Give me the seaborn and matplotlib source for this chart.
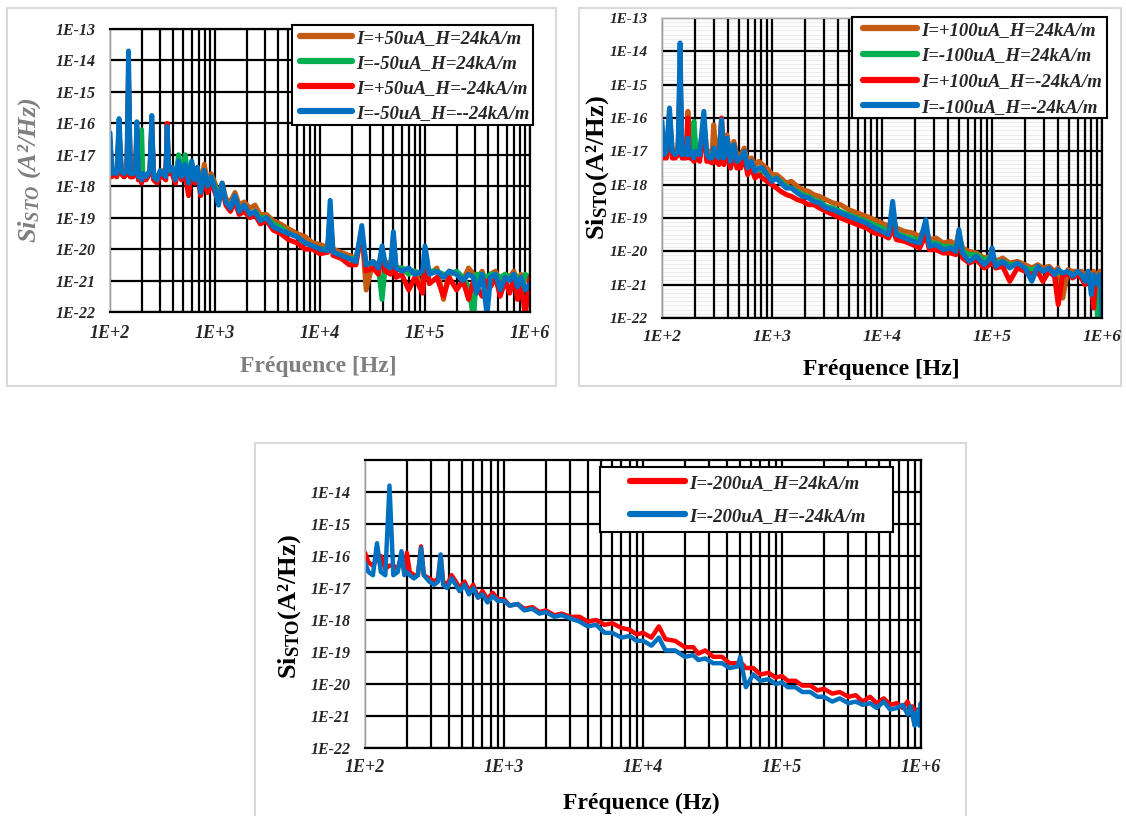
import numpy as np
import matplotlib
matplotlib.use("Agg")
import matplotlib.pyplot as plt
from matplotlib.patches import Rectangle
from matplotlib.font_manager import FontProperties
import seaborn as sns

# ---------------- data (log10 of Si_STO in A^2/Hz) ----------------
freq_p1 = [
    100, 104, 110, 116, 122, 128, 136, 145, 150, 156,
    165, 175, 180, 186, 195, 200, 206, 220, 240, 250,
    260, 280, 300, 320, 340, 350, 362, 390, 420, 450,
    480, 520, 560, 600, 640, 680, 730, 790, 850, 920,
    1000, 1080, 1170, 1270, 1400, 1550, 1700, 1900, 2150, 2400,
    2700, 3100, 3600, 4200, 5000, 6000, 7200, 8500, 10000, 11800,
    12500, 13300, 16000, 19000, 22000, 25000, 27500, 32000, 36000, 39000,
    42000, 47000, 50000, 53000, 60000, 70000, 80000, 95000, 100000, 110000,
    130000, 150000, 170000, 200000, 230000, 260000, 290000, 310000, 350000, 390000,
    420000, 470000, 520000, 580000, 640000, 700000, 760000, 820000, 900000, 1000000,
]
p50_pos_h24 = [
    -16.6, -17.5, -17.5, -17.6, -16.3, -17.5, -17.6, -17.5, -14.8, -17.6,
    -17.6, -17.5, -16.4, -17.6, -17.6, -17.7, -17.6, -17.7, -17.5, -16.2,
    -17.6, -17.7, -17.6, -17.5, -17.6, -16.4, -17.5, -17.4, -17.7, -17.3,
    -17.6, -17.4, -17.8, -17.3, -17.7, -17.4, -18.0, -17.3, -17.9, -17.6,
    -17.9, -18.3, -17.9, -18.4, -18.5, -18.2, -18.6, -18.5, -18.7, -18.6,
    -18.9, -18.9, -19.1, -19.2, -19.35, -19.5, -19.6, -19.8, -19.85, -19.95,
    -19.0, -20.0, -20.1, -20.2, -20.3, -19.4, -21.3, -20.4, -20.5, -20.2,
    -20.4, -20.5, -19.7, -20.6, -20.6, -20.7, -20.7, -21.3, -20.3, -20.8,
    -20.6, -21.6, -20.7, -20.8, -21.0, -20.6, -20.8, -21.0, -20.7, -21.2,
    -20.8, -20.7, -21.0, -20.8, -20.9, -20.7, -21.0, -20.8, -21.0, -20.9,
]
p50_neg_h24 = [
    -16.8, -17.6, -17.6, -17.7, -16.5, -17.6, -17.7, -17.6, -14.9, -17.7,
    -17.7, -17.6, -16.6, -17.7, -16.7, -16.2, -17.7, -17.7, -17.6, -16.3,
    -17.7, -17.8, -17.7, -17.6, -17.7, -16.6, -17.6, -17.5, -17.8, -17.0,
    -17.7, -17.0, -17.8, -17.3, -17.8, -17.5, -18.0, -17.6, -18.0, -17.7,
    -18.0, -18.4, -18.0, -18.5, -18.6, -18.4, -18.7, -18.7, -18.9, -18.8,
    -19.0, -19.0, -19.2, -19.3, -19.5, -19.6, -19.8, -19.9, -20.0, -20.0,
    -19.2, -20.1, -20.2, -20.3, -20.3, -19.6, -20.5, -20.4, -20.6, -21.6,
    -20.5, -20.6, -19.9, -20.6, -20.6, -20.8, -20.7, -20.8, -20.5, -20.7,
    -20.7, -20.8, -20.8, -20.7, -20.9, -21.2, -22.2, -20.8, -20.8, -20.9,
    -20.8, -20.8, -20.9, -20.8, -20.9, -20.8, -20.9, -21.5, -20.8, -20.9,
]
p50_pos_hm24 = [
    -16.5, -17.7, -17.6, -17.7, -16.2, -17.6, -17.7, -17.6, -14.5, -17.7,
    -17.7, -17.6, -16.3, -17.8, -17.7, -17.9, -17.7, -17.8, -17.6, -16.0,
    -17.8, -17.9, -17.7, -17.7, -17.8, -16.0, -17.6, -17.6, -17.9, -17.4,
    -17.8, -17.6, -18.3, -17.3, -17.9, -17.6, -18.3, -17.8, -18.2, -17.9,
    -18.2, -18.5, -18.1, -18.6, -18.8, -18.5, -18.9, -18.8, -19.0, -18.9,
    -19.2, -19.1, -19.4, -19.5, -19.7, -19.8, -20.0, -20.0, -20.15, -20.1,
    -18.9, -20.2, -20.3, -20.5, -20.5, -19.4, -20.7, -20.6, -20.8, -20.1,
    -20.7, -20.8, -19.6, -20.9, -20.8, -21.3, -20.9, -21.4, -20.2, -21.1,
    -20.9, -21.5, -20.9, -21.3, -21.0, -21.6, -21.0, -21.2, -21.5, -21.0,
    -21.2, -20.9, -21.5, -21.0, -21.4, -20.9, -21.6, -21.1, -22.1, -20.9,
]
p50_neg_hm24 = [
    -16.3, -17.6, -17.5, -17.6, -15.85, -17.5, -17.6, -17.5, -13.7, -17.6,
    -17.6, -17.5, -15.95, -17.7, -17.6, -17.8, -17.6, -17.7, -17.5, -15.75,
    -17.7, -17.8, -17.5, -17.6, -17.7, -16.1, -17.5, -17.4, -17.8, -17.2,
    -17.7, -17.3, -17.9, -17.2, -17.8, -17.4, -18.2, -17.5, -18.0, -17.7,
    -18.1, -18.6, -17.9, -18.5, -18.7, -18.3, -18.8, -18.6, -18.9, -18.8,
    -19.1, -19.0, -19.3, -19.4, -19.5, -19.6, -19.8, -19.9, -20.0, -20.05,
    -18.45, -20.1, -20.2, -20.3, -20.4, -19.25, -20.5, -20.4, -20.6, -19.9,
    -20.5, -20.6, -19.45, -20.6, -20.7, -20.6, -20.8, -20.7, -19.9, -20.8,
    -20.7, -20.9, -20.7, -20.8, -21.0, -20.8, -20.9, -21.4, -20.8, -22.1,
    -20.9, -20.8, -21.3, -20.9, -21.0, -20.8, -21.2, -20.9, -21.3, -21.1,
]
labels_p1 = ["I=+50uA_H=24kA/m", "I=-50uA_H=24kA/m",
             "I=+50uA_H=-24kA/m", "I=-50uA_H=--24kA/m"]

freq_p2 = [
    100, 104, 110, 117, 124, 132, 140, 146, 152, 160,
    166, 172, 178, 186, 195, 205, 220, 240, 255, 270,
    285, 295, 310, 330, 348, 365, 390, 420, 450, 480,
    520, 560, 600, 650, 700, 760, 820, 900, 1000, 1100,
    1200, 1350, 1500, 1700, 1900, 2150, 2400, 2700, 3100, 3600,
    4200, 5000, 6000, 7200, 8500, 10000, 11500, 12500, 13500, 16000,
    19000, 22000, 25000, 27000, 31000, 36000, 42000, 47000, 50000, 54000,
    62000, 72000, 85000, 95000, 100000, 108000, 125000, 145000, 170000, 200000,
    230000, 260000, 290000, 330000, 370000, 400000, 440000, 490000, 540000, 600000,
    650000, 700000, 750000, 800000, 840000, 880000, 920000, 950000, 980000, 1000000,
]
p100_pos_h24 = [
    -16.8, -17.1, -17.0, -15.9, -17.0, -17.0, -16.9, -15.0, -17.0, -17.0,
    -17.0, -15.8, -17.0, -16.9, -17.0, -16.9, -17.0, -16.1, -17.0, -17.0,
    -17.1, -16.2, -17.0, -17.0, -16.1, -17.1, -16.5, -17.2, -16.7, -17.1,
    -17.1, -16.9, -17.3, -17.2, -17.4, -17.3, -17.4, -17.5, -17.7, -17.7,
    -17.8, -17.95, -17.9, -18.05, -18.15, -18.2, -18.3, -18.35, -18.45, -18.55,
    -18.6, -18.75, -18.85, -18.95, -19.05, -19.15, -19.25, -19.0, -19.3, -19.4,
    -19.45, -19.55, -19.3, -19.65, -19.6, -19.75, -19.7, -19.8, -19.45, -19.9,
    -20.0, -20.05, -20.2, -20.15, -20.1, -20.3, -20.2, -20.35, -20.3, -20.4,
    -20.5, -20.4, -20.5, -20.45, -20.6, -20.5, -21.4, -20.55, -20.6, -20.6,
    -20.6, -20.7, -20.6, -20.8, -20.6, -20.7, -20.8, -20.6, -20.7, -20.6,
]
p100_neg_h24 = [
    -17.0, -17.1, -17.05, -16.2, -17.1, -17.1, -17.0, -15.2, -17.1, -17.05,
    -17.1, -16.6, -17.1, -17.05, -16.1, -17.1, -17.1, -16.3, -17.1, -17.2,
    -17.2, -17.0, -17.1, -17.2, -16.4, -17.2, -16.8, -17.5, -16.9, -17.3,
    -17.3, -17.2, -17.5, -17.4, -17.6, -17.5, -17.6, -17.7, -17.85, -17.8,
    -17.9, -18.05, -18.1, -18.2, -18.3, -18.35, -18.45, -18.5, -18.65, -18.7,
    -18.8, -18.9, -19.0, -19.1, -19.2, -19.3, -19.4, -19.1, -19.45, -19.55,
    -19.6, -19.7, -19.4, -19.75, -19.75, -19.85, -19.85, -19.95, -19.6, -20.0,
    -20.1, -20.1, -20.25, -20.2, -20.2, -20.35, -20.3, -20.4, -20.4, -20.5,
    -20.55, -20.5, -20.6, -20.55, -20.7, -20.6, -20.7, -20.65, -20.7, -20.7,
    -20.75, -20.8, -20.7, -20.9, -20.75, -21.1, -22.3, -20.8, -20.9, -20.8,
]
p100_pos_hm24 = [
    -16.5, -17.2, -17.2, -16.0, -17.2, -17.2, -17.1, -14.6, -17.2, -17.2,
    -17.2, -16.0, -17.2, -17.2, -17.3, -17.2, -17.3, -16.3, -17.3, -17.3,
    -17.35, -17.0, -17.3, -17.4, -16.0, -17.4, -16.9, -17.5, -17.0, -17.5,
    -17.5, -17.1, -17.7, -17.5, -17.8, -17.7, -17.8, -17.9, -18.0, -18.1,
    -18.2, -18.3, -18.35, -18.45, -18.5, -18.6, -18.6, -18.7, -18.8, -18.9,
    -19.0, -19.1, -19.2, -19.3, -19.45, -19.5, -19.6, -19.3, -19.65, -19.7,
    -19.8, -19.9, -19.5, -19.95, -19.95, -20.05, -20.05, -20.1, -19.5, -20.2,
    -20.35, -20.25, -20.5, -20.4, -20.3, -20.5, -20.45, -20.9, -20.5, -20.6,
    -20.7, -20.6, -20.9, -20.6, -20.75, -21.6, -20.7, -20.7, -20.8, -20.7,
    -20.8, -21.0, -20.8, -21.0, -21.7, -20.8, -20.9, -20.8, -20.9, -20.9,
]
p100_neg_hm24 = [
    -16.1, -17.1, -17.0, -15.7, -17.0, -17.1, -17.0, -13.75, -17.1, -17.0,
    -17.1, -16.6, -17.1, -17.0, -17.2, -17.0, -17.1, -15.8, -17.1, -17.2,
    -17.2, -16.9, -17.1, -17.2, -16.05, -17.2, -16.6, -17.3, -16.8, -17.3,
    -17.2, -17.0, -17.5, -17.3, -17.6, -17.5, -17.5, -17.7, -17.9, -17.8,
    -17.95, -18.1, -18.1, -18.25, -18.35, -18.4, -18.5, -18.55, -18.7, -18.75,
    -18.85, -18.95, -19.05, -19.15, -19.3, -19.4, -19.5, -18.5, -19.5, -19.6,
    -19.7, -19.75, -19.05, -19.85, -19.8, -19.95, -19.9, -20.0, -19.35, -20.05,
    -20.3, -20.15, -20.4, -20.25, -19.9, -20.45, -20.3, -20.5, -20.35, -20.5,
    -20.9, -20.45, -20.6, -20.5, -20.7, -20.55, -20.65, -20.6, -20.75, -20.6,
    -20.7, -20.9, -20.6, -21.3, -20.7, -20.9, -21.0, -20.7, -21.0, -22.0,
]
labels_p2 = ["I=+100uA_H=24kA/m", "I=-100uA_H=24kA/m",
             "I=+100uA_H=-24kA/m", "I=-100uA_H=-24kA/m"]

freq_p3 = [
    100, 106, 114, 122, 130, 140, 150, 160, 172, 183,
    192, 200, 210, 225, 240, 253, 265, 290, 315, 335,
    350, 365, 390, 420, 450, 480, 520, 560, 600, 650,
    700, 760, 830, 900, 1000, 1100, 1250, 1400, 1600, 1800,
    2000, 2300, 2600, 3000, 3500, 4000, 4600, 5300, 6000, 7000,
    8000, 9000, 10000, 11500, 13000, 14500, 17000, 20000, 23000, 25000,
    28000, 32000, 37000, 42000, 48000, 50000, 55000, 62000, 70000, 80000,
    90000, 100000, 110000, 125000, 140000, 160000, 180000, 200000, 230000, 260000,
    300000, 340000, 380000, 430000, 480000, 540000, 600000, 670000, 740000, 800000,
    840000, 870000, 900000, 920000, 940000, 960000, 975000, 985000, 995000, 1000000,
]
p200_h24 = [
    -15.9, -16.2, -16.3, -16.1, -16.0, -16.4, -16.3, -16.3, -16.4, -16.0,
    -16.5, -15.9, -16.5, -16.6, -16.6, -15.7, -16.6, -16.7, -16.8, -16.7,
    -16.0, -16.8, -16.9, -16.6, -16.8, -17.0, -16.8, -17.1, -16.9, -17.3,
    -17.1, -17.35, -17.15, -17.35, -17.35, -17.55, -17.5, -17.65, -17.6, -17.75,
    -17.7, -17.85, -17.8, -17.9, -17.9, -18.05, -18.0, -18.15, -18.1, -18.25,
    -18.3, -18.45, -18.4, -18.55, -18.2, -18.6, -18.65, -18.85, -18.85, -19.05,
    -18.95, -19.15, -19.15, -19.35, -19.35, -19.3, -19.5, -19.5, -19.7, -19.65,
    -19.8, -19.75, -19.9, -19.9, -20.05, -20.05, -20.2, -20.15, -20.3, -20.25,
    -20.4, -20.35, -20.55, -20.4, -20.6, -20.45, -20.65, -20.6, -20.75, -20.55,
    -20.8, -20.7, -20.9, -21.0, -20.8, -20.9, -21.1, -20.9, -21.0, -20.85,
]
p200_hm24 = [
    -16.2, -16.5, -16.6, -15.6, -16.5, -16.6, -13.8, -16.6, -16.5, -15.85,
    -16.6, -16.5, -16.6, -16.7, -16.6, -15.75, -16.6, -16.8, -16.9, -16.8,
    -15.95, -16.9, -17.0, -16.7, -16.9, -17.1, -16.9, -17.2, -17.0, -17.3,
    -17.2, -17.45, -17.25, -17.4, -17.4, -17.55, -17.5, -17.7, -17.65, -17.8,
    -17.75, -17.9, -17.85, -17.95, -18.05, -18.2, -18.15, -18.4, -18.4, -18.55,
    -18.5, -18.65, -18.65, -18.8, -18.55, -18.95, -18.95, -19.15, -19.1, -19.25,
    -19.2, -19.35, -19.35, -19.5, -19.45, -19.15, -20.1, -19.7, -19.9, -19.85,
    -20.0, -19.95, -20.1, -20.1, -20.25, -20.25, -20.4, -20.4, -20.55, -20.45,
    -20.6, -20.55, -20.65, -20.6, -20.75, -20.55, -20.8, -20.75, -20.65, -20.95,
    -20.7, -21.0, -21.3, -20.9, -21.1, -20.8, -21.3, -20.9, -20.6, -20.7,
]
labels_p3 = ["I=-200uA_H=24kA/m", "I=-200uA_H=-24kA/m"]

x_ticks = [1e2, 1e3, 1e4, 1e5, 1e6]
x_tick_labels = ["1E+2", "1E+3", "1E+4", "1E+5", "1E+6"]
y_exponents = [-22, -21, -20, -19, -18, -17, -16, -15, -14, -13]

# ---------------- style ----------------
sns.set_style("white")
plt.rcParams["font.family"] = ["Liberation Serif", "DejaVu Serif"]
plt.rcParams["mathtext.fontset"] = "custom"
plt.rcParams["mathtext.it"] = "Liberation Serif:italic:bold"
plt.rcParams["mathtext.rm"] = "Liberation Serif:bold"
plt.rcParams["mathtext.bf"] = "Liberation Serif:bold"

ORANGE, GREEN, RED, BLUE = "#C55A11", "#00B050", "#FF0000", "#0070C0"
W, H = 1126, 816
fig = plt.figure(figsize=(W / 100, H / 100), dpi=100)
fig.patch.set_facecolor("white")


def rect(x0, y0, x1, y1):
    return [x0 / W, 1 - y1 / H, (x1 - x0) / W, (y1 - y0) / H]


def fx(x):
    return x / W


def fy(y):
    return 1 - y / H


# panel frames
for (x0, y0, x1, y1) in [(7, 8, 556, 386), (579, 8, 1121, 386), (255, 443, 966, 830)]:
    fig.patches.append(Rectangle((fx(x0), fy(y1)), (x1 - x0) / W, (y1 - y0) / H,
                                 transform=fig.transFigure, fill=False,
                                 edgecolor="#d9d9d9", lw=1.5, zorder=-5))


def setup_axes(ax, ylab_exps, xfs, yfs, xpad, ypad, shaded=False, top_gray=False):
    ax.set_xscale("log")
    ax.set_yscale("log")
    ax.set_xlim(1e2, 1e6)
    ax.set_ylim(1e-22, 1e-13)
    ax.set_axisbelow(True)
    if shaded:
        ax.set_facecolor("#fcfcfc")
        ax.set_yticks([10.0 ** e for e in np.arange(-22, -13, 0.125)], minor=True)
        ax.yaxis.grid(True, which="minor", color="#e9e9e9", lw=0.6)
    else:
        ax.yaxis.set_minor_locator(matplotlib.ticker.NullLocator())
    ax.yaxis.set_minor_formatter(matplotlib.ticker.NullFormatter())
    ax.set_xticks(x_ticks, labels=x_tick_labels, fontsize=xfs,
                  fontstyle="italic", fontweight="bold")
    ax.xaxis.set_minor_locator(matplotlib.ticker.LogLocator(base=10, subs=np.arange(2, 10)))
    ax.xaxis.set_minor_formatter(matplotlib.ticker.NullFormatter())
    ax.set_yticks([10.0 ** e for e in ylab_exps],
                  labels=["1E%d" % e for e in ylab_exps], fontsize=yfs,
                  fontstyle="italic", fontweight="bold")
    ax.xaxis.grid(True, which="both", color="black", lw=1.6)
    ax.yaxis.grid(True, which="major", color="black", lw=1.6)
    ax.yaxis.set_zorder(0.4)
    ax.tick_params(which="both", length=0)
    ax.tick_params(axis="x", pad=xpad)
    ax.tick_params(axis="y", pad=ypad)
    ax.spines["left"].set_color("#bfbfbf")
    ax.spines["left"].set_linewidth(1.2)
    ax.spines["bottom"].set_color("black")
    ax.spines["bottom"].set_linewidth(1.6)
    ax.spines["right"].set_color("black")
    ax.spines["right"].set_linewidth(1.6)
    ax.spines["top"].set_color("#d0d0d0" if top_gray else "black")
    ax.spines["top"].set_linewidth(1.2 if top_gray else 1.6)


def draw_series(ax, freq, series, colors, labels, lw):
    handles = []
    for vals, c, lab in zip(series, colors, labels):
        sns.lineplot(x=freq, y=10.0 ** np.asarray(vals), ax=ax, color=c,
                     linewidth=lw, sort=False, errorbar=None, label=lab,
                     solid_joinstyle="round", solid_capstyle="round")
        handles.append(ax.get_lines()[-1])
    if ax.get_legend() is not None:
        ax.get_legend().remove()
    return handles


def add_legend(handles, labels, box, handle_x, first_row_y, fs, spacing_px, handle_px):
    x0, y0, x1, y1 = box
    fig.patches.append(Rectangle((fx(x0), fy(y1)), (x1 - x0) / W, (y1 - y0) / H,
                                 transform=fig.transFigure, facecolor="white",
                                 edgecolor="black", lw=1.5, zorder=4))
    fs_px = fs * 100 / 72
    text_h = 0.91 * fs_px
    leg = fig.legend(handles, labels, loc="upper left",
                     bbox_to_anchor=(fx(handle_x), fy(first_row_y - text_h / 2)),
                     bbox_transform=fig.transFigure, frameon=False,
                     borderpad=0, borderaxespad=0,
                     handlelength=handle_px / fs_px, handletextpad=0.2,
                     labelspacing=(spacing_px - text_h) / fs_px,
                     prop=FontProperties(family="Liberation Serif", weight="bold",
                                         style="italic", size=fs))
    leg.set_zorder(5)
    for ln in leg.get_lines():
        ln.set_linewidth(4.5)
        ln.set_solid_capstyle("round")


colors4 = [ORANGE, GREEN, RED, BLUE]

# ---------------- panel 1 ----------------
ax1 = fig.add_axes(rect(110, 29, 530, 312))
setup_axes(ax1, y_exponents, 13, 11.5, 9, 10)
h1 = draw_series(ax1, freq_p1, [p50_pos_h24, p50_neg_h24, p50_pos_hm24, p50_neg_hm24],
                 colors4, labels_p1, 3.6)
add_legend(h1, labels_p1, (292, 25, 533, 125), 300, 38, 13.5, 25, 52)
fig.text(fx(318), fy(367), "Fréquence [Hz]", ha="center", va="center",
         fontsize=17, fontweight="bold", color="#7f7f7f")
fig.text(fx(30), fy(170), r"$Si_{STO}$ (A²/Hz)", ha="center", va="center",
         rotation=90, fontsize=19, fontweight="bold", fontstyle="italic", color="#7f7f7f")

# ---------------- panel 2 ----------------
ax2 = fig.add_axes(rect(662, 18, 1102, 318))
setup_axes(ax2, y_exponents, 12.5, 11, 8, 10, shaded=True, top_gray=True)
h2 = draw_series(ax2, freq_p2, [p100_pos_h24, p100_neg_h24, p100_pos_hm24, p100_neg_hm24],
                 colors4, labels_p2, 3.6)
add_legend(h2, labels_p2, (852, 17, 1107, 118), 863, 30, 13.5, 25.7, 54)
fig.text(fx(881), fy(370), "Fréquence [Hz]", ha="center", va="center",
         fontsize=17, fontweight="bold", color="black")
fig.text(fx(598), fy(168), r"$\mathrm{Si}_{\mathrm{STO}}$(A²/Hz)", ha="center", va="center",
         rotation=90, fontsize=19, fontweight="bold", color="black")

# ---------------- panel 3 ----------------
ax3 = fig.add_axes(rect(365, 460, 921, 748))
setup_axes(ax3, y_exponents[:-1], 13, 11.5, 8, 10)
h3 = draw_series(ax3, freq_p3, [p200_h24, p200_hm24], [RED, BLUE], labels_p3, 3.2)
add_legend(h3, labels_p3, (600, 467, 893, 532), 630, 483, 13.5, 33, 55)
fig.text(fx(641), fy(803), "Fréquence (Hz)", ha="center", va="center",
         fontsize=17, fontweight="bold", color="black")
fig.text(fx(290), fy(607), r"$\mathrm{Si}_{\mathrm{STO}}$(A²/Hz)", ha="center", va="center",
         rotation=90, fontsize=19, fontweight="bold", color="black")

fig.savefig("out.png", dpi=100, facecolor="white")
